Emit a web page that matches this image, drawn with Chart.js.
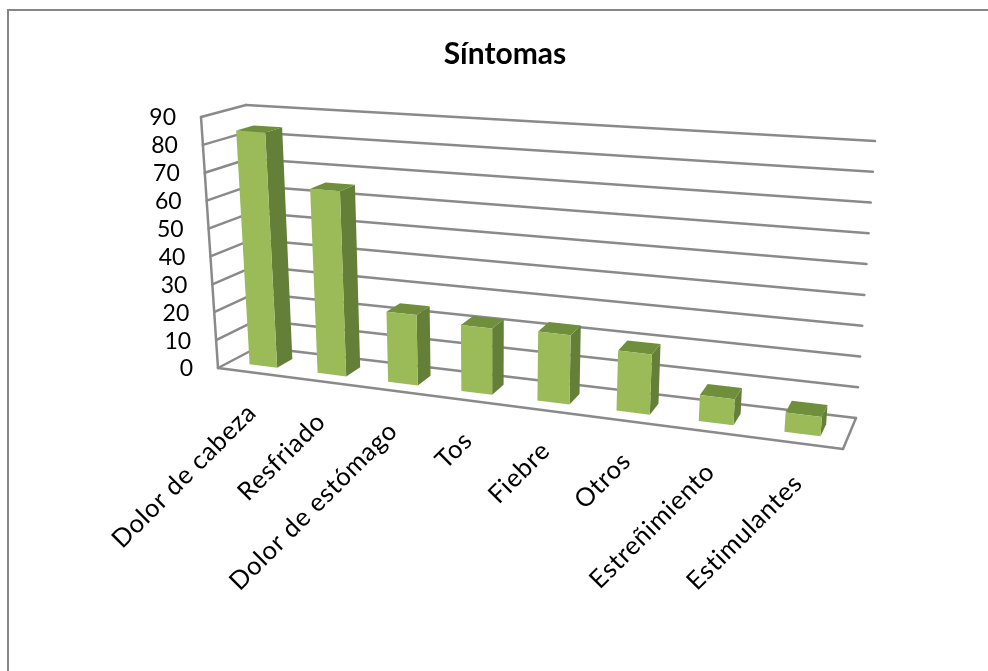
<!DOCTYPE html>
<html><head><meta charset="utf-8">
<style>html,body{margin:0;padding:0;background:#fff}#w{width:988px;height:671px;position:relative}canvas{display:block;filter:blur(0.5px)}</style>
<script src="https://cdn.jsdelivr.net/npm/chart.js@4"></script>
</head><body><div id="w"><canvas id="c" width="988" height="671"></canvas></div>
<script>
const categories = ["Dolor de cabeza","Resfriado","Dolor de estómago","Tos","Fiebre","Otros","Estreñimiento","Estimulantes"];
const cases = [84.3,65.4,24.5,22.7,23.4,20,8.5,6.2];
const yMin = 0, yMax = 90, yStep = 10;

// 3D view box: screen corners of the plot's cube (f/b = front/back, l/r = left/right, 0/1 = floor/top)
const box = {
  fl0:[218,368], fr0:[843,449], bl0:[258,347], br0:[856,418],
  fl1:[201,117], fr1:[865,164], bl1:[246,105], br1:[875,141]
};
const depthFront = 0.3, depthBack = 0.7, persp = 0.167;
const lerp = (a,b,t)=>[a[0]+(b[0]-a[0])*t, a[1]+(b[1]-a[1])*t];
const warp = u => u/(1+persp*(1-u));
function project(u,v,w){
  const f = lerp(lerp(box.fl0,box.fr0,u), lerp(box.fl1,box.fr1,u), v);
  const b = lerp(lerp(box.bl0,box.br0,u), lerp(box.bl1,box.br1,u), v);
  return lerp(f,b,w);
}
function poly(ctx,pts,fill,stroke,lw){
  ctx.beginPath();
  pts.forEach((p,i)=> i? ctx.lineTo(p[0],p[1]) : ctx.moveTo(p[0],p[1]));
  ctx.closePath();
  if(fill){ctx.fillStyle=fill;ctx.fill();}
  if(stroke){ctx.strokeStyle=stroke;ctx.lineWidth=lw||1;ctx.stroke();}
}
function seg(ctx,a,b){ctx.beginPath();ctx.moveTo(a[0],a[1]);ctx.lineTo(b[0],b[1]);ctx.stroke();}

const view3d = {
  id:'view3d',
  beforeDraw(chart){
    const ctx=chart.ctx; ctx.save();
    ctx.strokeStyle='#868686'; ctx.lineWidth=2;
    ctx.beginPath(); ctx.moveTo(8,671); ctx.lineTo(8,10); ctx.lineTo(988,10); ctx.stroke();
    ctx.restore();
  },
  beforeDatasetsDraw(chart){
    const ctx=chart.ctx, ys=chart.scales.y, xs=chart.scales.x, a=chart.chartArea;
    ctx.save();
    ctx.strokeStyle='#8a8a8a'; ctx.lineWidth=2.5; ctx.lineCap='round';
    ys.ticks.forEach(t=>{
      const v=(a.bottom-ys.getPixelForValue(t.value))/a.height;
      seg(ctx,project(0,v,0),project(0,v,1));
      seg(ctx,project(0,v,1),project(1,v,1));
      ctx.fillStyle='#000'; ctx.font='23px Lato'; ctx.textAlign='right'; ctx.textBaseline='middle';
      const p=project(0,v,0);
      ctx.fillText(String(t.value),p[0]-25,p[1]+1);
    });
    seg(ctx,project(0,0,0),project(0,1,0));
    seg(ctx,project(0,0,0),project(1,0,0));
    seg(ctx,project(1,0,0),project(1,0,1));
    ctx.fillStyle='#000'; ctx.font='25.5px Lato'; ctx.letterSpacing='0.7px'; ctx.textAlign='right'; ctx.textBaseline='middle';
    categories.forEach((c,i)=>{
      const u=warp((xs.getPixelForTick(i)-a.left)/a.width);
      const p=project(u,0,0);
      ctx.save();
      ctx.translate(p[0],p[1]+36);
      ctx.rotate(-Math.PI/4);
      ctx.fillText(c,0,0);
      ctx.restore();
    });
    ctx.restore();
  },
  beforeDatasetDraw(chart,args){
    const ctx=chart.ctx, a=chart.chartArea;
    ctx.save(); ctx.lineJoin='round';
    args.meta.data.forEach(el=>{
      const p=el.getProps(['x','y','base','width'],true);
      const u0=warp((p.x-p.width/2-a.left)/a.width), u1=warp((p.x+p.width/2-a.left)/a.width);
      const v1=(a.bottom-p.y)/a.height, v0=(a.bottom-p.base)/a.height;
      const P=(u,v,w)=>project(u,v,w);
      poly(ctx,[P(u1,v0,depthFront),P(u1,v0,depthBack),P(u1,v1,depthBack),P(u1,v1,depthFront)],'#647f37');
      poly(ctx,[P(u0,v1,depthFront),P(u1,v1,depthFront),P(u1,v1,depthBack),P(u0,v1,depthBack)],'#6f8f3c');
      const f=[P(u0,v0,depthFront),P(u1,v0,depthFront),P(u1,v1,depthFront),P(u0,v1,depthFront)];
      poly(ctx,f,el.options.backgroundColor);
    });
    ctx.restore();
    return false;
  }
};

new Chart(document.getElementById('c'),{
  type:'bar',
  data:{labels:categories,datasets:[{label:'Síntomas',data:cases,backgroundColor:'#9bbb59',barPercentage:0.41,categoryPercentage:1}]},
  options:{
    responsive:false,animation:false,
    layout:{padding:{left:34,right:20,top:0,bottom:100}},
    plugins:{
      legend:{display:false},tooltip:{enabled:false},
      title:{display:true,text:'Síntomas',fullSize:false,color:'#000',font:{family:'Lato',size:30,weight:'bold'},padding:{top:36,bottom:20}}
    },
    scales:{
      x:{display:true,grid:{display:false},border:{display:false},ticks:{display:false}},
      y:{min:yMin,max:yMax,ticks:{display:false,stepSize:yStep},grid:{display:false},border:{display:false}}
    }
  },
  plugins:[view3d]
});
</script></body></html>
